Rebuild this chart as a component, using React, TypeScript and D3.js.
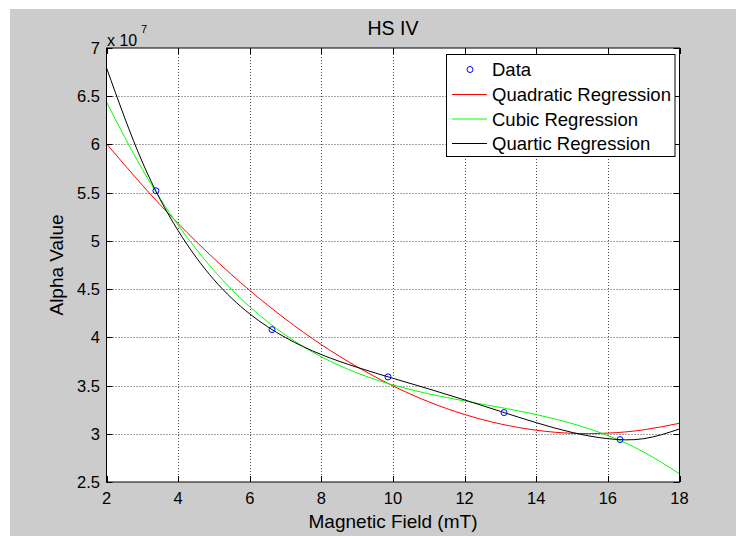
import React from "react";
import * as d3 from "d3";

// Data points (Alpha value in units of 1e7)
const dataX = [3.38, 6.62, 9.86, 13.1, 16.34];
const dataY = [5.52, 4.08, 3.59, 3.22, 2.94];

// Regression curves, sampled at x = 2..18 (units of 1e7)
const curveX = [2, 3, 4, 5, 6, 7, 8, 9, 10, 11, 12, 13, 14, 15, 16, 17, 18];
const quadraticY = [6.008, 5.577, 5.18, 4.817, 4.486, 4.189, 3.924, 3.694, 3.496, 3.331, 3.2, 3.102, 3.037, 3.005, 3.007, 3.041, 3.109];
const cubicY = [6.44, 5.742, 5.164, 4.693, 4.317, 4.023, 3.798, 3.63, 3.506, 3.414, 3.34, 3.273, 3.199, 3.106, 2.981, 2.811, 2.585];
const quarticY = [6.794, 5.818, 5.106, 4.598, 4.243, 3.997, 3.821, 3.689, 3.575, 3.465, 3.351, 3.232, 3.115, 3.014, 2.949, 2.949, 3.05];

const xTicks = [2, 4, 6, 8, 10, 12, 14, 16, 18];
const yTicks = [2.5, 3, 3.5, 4, 4.5, 5, 5.5, 6, 6.5, 7];
const legendLabels = ["Data", "Quadratic Regression", "Cubic Regression", "Quartic Regression"];

const FONT = "'Liberation Sans', Arial, Helvetica, sans-serif";

export default function App() {
  const W = 736, H = 536;
  const L = 106.5, R = 679.5, T = 48, B = 482;
  const x = d3.scaleLinear().domain([2, 18]).range([L, R]);
  const y = d3.scaleLinear().domain([2.5, 7]).range([B, T]);

  const line = d3
    .line<number>()
    .x((_, i) => x(curveX[i]))
    .y((d) => y(d))
    .curve(d3.curveNatural);

  const series = [
    { vals: quadraticY, color: "#ff0000" },
    { vals: cubicY, color: "#00ff00" },
    { vals: quarticY, color: "#000000" },
  ];

  const tickLen = 6;
  const legX = 446.5, legY = 54.5, legW = 228.5, legH = 102;
  const rowY = [69.5, 94.5, 119, 143.5];

  return (
    <svg width={W} height={H} style={{ position: "absolute", left: 0, top: 0 }} fontFamily={FONT}>
      <rect x={0} y={0} width={W} height={H} fill="#ffffff" />
      <rect x={10} y={9} width={W - 10} height={H - 9} fill="#cccccc" />
      <rect x={L} y={T} width={R - L} height={B - T} fill="#ffffff" />

      {/* grid */}
      {xTicks.slice(1, -1).map((t) => (
        <line key={"gx" + t} x1={Math.round(x(t)) + 0.5} x2={Math.round(x(t)) + 0.5} y1={T} y2={B} stroke="#000" strokeWidth={1} strokeDasharray="1,2" opacity={0.7} />
      ))}
      {yTicks.slice(1, -1).map((t) => (
        <line key={"gy" + t} y1={Math.round(y(t)) + 0.5} y2={Math.round(y(t)) + 0.5} x1={L} x2={R} stroke="#000" strokeWidth={1} strokeDasharray="1,2" opacity={0.7} />
      ))}

      {/* curves */}
      <g clipPath="url(#clip)">
        {series.map((s, i) => (
          <path key={i} d={line(s.vals) || ""} fill="none" stroke={s.color} strokeWidth={1} />
        ))}
      </g>
      <defs>
        <clipPath id="clip">
          <rect x={L} y={T} width={R - L} height={B - T} />
        </clipPath>
      </defs>

      {/* data markers */}
      {dataX.map((dx, i) => (
        <circle key={"d" + i} cx={x(dx)} cy={y(dataY[i])} r={3} fill="none" stroke="#0000ff" strokeWidth={1} />
      ))}

      {/* axes box */}
      <rect x={L} y={T} width={R - L} height={B - T} fill="none" stroke="#000" strokeWidth={1} />
      {xTicks.map((t) => (
        <g key={"xt" + t}>
          <line x1={Math.round(x(t)) + 0.5} x2={Math.round(x(t)) + 0.5} y1={B} y2={B - tickLen} stroke="#000" />
          <line x1={Math.round(x(t)) + 0.5} x2={Math.round(x(t)) + 0.5} y1={T} y2={T + tickLen} stroke="#000" />
          <text x={x(t)} y={503.5} textAnchor="middle" fontSize={16.5} fill="#000">{t}</text>
        </g>
      ))}
      {yTicks.map((t) => (
        <g key={"yt" + t}>
          <line y1={Math.round(y(t)) + 0.5} y2={Math.round(y(t)) + 0.5} x1={L} x2={L + tickLen} stroke="#000" />
          <line y1={Math.round(y(t)) + 0.5} y2={Math.round(y(t)) + 0.5} x1={R} x2={R - tickLen} stroke="#000" />
          <text x={100} y={y(t) + 6} textAnchor="end" fontSize={16.5} fill="#000">{t}</text>
        </g>
      ))}

      {/* exponent */}
      <text x={107} y={45.5} fontSize={16} fill="#000">x 10</text>
      <text x={141} y={33} fontSize={11} fill="#000">7</text>

      {/* title & labels */}
      <text x={(L + R) / 2} y={34.5} textAnchor="middle" fontSize={19.5} fill="#000">HS IV</text>
      <text x={(L + R) / 2} y={528} textAnchor="middle" fontSize={19} fill="#000">Magnetic Field (mT)</text>
      <text transform={`translate(63,${(T + B) / 2}) rotate(-90)`} textAnchor="middle" fontSize={19} fill="#000">Alpha Value</text>

      {/* legend */}
      <rect x={legX} y={legY} width={legW} height={legH} fill="#fff" stroke="#000" strokeWidth={1} />
      <circle cx={470} cy={rowY[0]} r={3} fill="none" stroke="#0000ff" />
      {series.map((s, i) => (
        <line key={"ll" + i} x1={452} x2={487} y1={rowY[i + 1]} y2={rowY[i + 1]} stroke={s.color} strokeWidth={1} />
      ))}
      {legendLabels.map((lab, i) => (
        <text key={"lt" + i} x={492} y={rowY[i] + 6.5} fontSize={18.5} fill="#000">{lab}</text>
      ))}
    </svg>
  );
}
